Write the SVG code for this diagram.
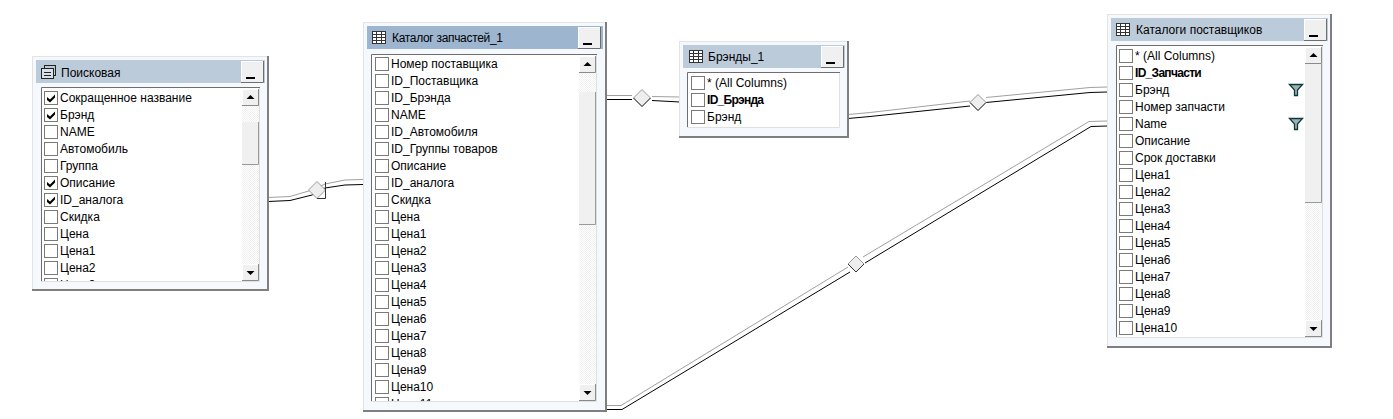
<svg xmlns="http://www.w3.org/2000/svg" xmlns:xlink="http://www.w3.org/1999/xlink" width="1393" height="419" viewBox="0 0 1393 419">
<style>
text{font-family:"Liberation Sans",Arial,sans-serif;font-size:12px;fill:#000}
.b{font-weight:bold;letter-spacing:-0.7px}
.panel{fill:#f5f8fd}
.edgeL{fill:none;stroke:#e3e3e3;stroke-width:1}
.edgeD{fill:none;stroke:#7f7f7f;stroke-width:2}
.tb{fill:#bccbda}
.tba{fill:#9db5cf}
.lb{fill:#fff}
.lbD{fill:none;stroke:#6e6e6e;stroke-width:1}
.lbL{fill:none;stroke:#e0e0e0;stroke-width:1}
.g{fill:none;stroke:#a0a0a0;stroke-width:1}
.w{fill:none;stroke:#fff;stroke-width:3}
.k{fill:none;stroke:#000;stroke-width:1}
.d{fill:#eeeeee;stroke:#9a9a9a;stroke-width:1}
.ds{fill:none;stroke:#333;stroke-width:1}
.th{fill:#f0f0f0}
.thE{fill:none;stroke:#9a9a9a}
</style>
<defs>
<pattern id="hatch" width="2" height="2" patternUnits="userSpaceOnUse"><rect width="2" height="2" fill="#fff"/><rect width="1" height="1" fill="#f0f0f0"/><rect x="1" y="1" width="1" height="1" fill="#f0f0f0"/></pattern>
<symbol id="cb" width="14" height="14" overflow="visible"><rect x="0.5" y="0.5" width="13" height="13" fill="#fff" stroke="#7a7a7a"/></symbol>
<symbol id="ck" width="14" height="14" overflow="visible"><rect x="0.5" y="0.5" width="13" height="13" fill="#fff" stroke="#7a7a7a"/><path d="M3 6 L6 8.500 L11 3.500 L11 6.500 L6 11.500 L3 9 Z" fill="#000"/></symbol>
<symbol id="min" width="23" height="22" overflow="visible"><rect width="23" height="22" fill="#f0f0f0"/><path d="M0.500 21 V0.500 H22" fill="none" stroke="#fff"/><path d="M0 21.500 H22.500 V0" fill="none" stroke="#6e6e6e"/><rect x="5" y="16" width="9" height="2" fill="#000"/></symbol>
<symbol id="up" width="17" height="17" overflow="visible"><rect width="17" height="17" fill="#f0f0f0"/><path d="M0.500 16 V0.500 H16" fill="none" stroke="#fff"/><path d="M0 16.500 H16.500 V0" fill="none" stroke="#8a8a8a"/><path d="M4.500 10 H12.500 L8.500 6 Z" fill="#000"/></symbol>
<symbol id="dn" width="17" height="17" overflow="visible"><rect width="17" height="17" fill="#f0f0f0"/><path d="M0.500 16 V0.500 H16" fill="none" stroke="#fff"/><path d="M0 16.500 H16.500 V0" fill="none" stroke="#8a8a8a"/><path d="M4.500 7 H12.500 L8.500 11 Z" fill="#000"/></symbol>
<symbol id="tbl" width="14" height="13" overflow="visible"><rect x="0.500" y="0.500" width="13" height="12" fill="#fff" stroke="#333"/><path d="M0.500 3.500 H13.500 M0.500 6.500 H13.500 M0.500 9.500 H13.500 M4.500 0.500 V12.500 M9.500 0.500 V12.500" fill="none" stroke="#333"/></symbol>
<symbol id="qry" width="15" height="14" overflow="visible"><rect x="3.500" y="0.500" width="11" height="10" fill="#bccbda" stroke="#222"/><rect x="0.500" y="3.500" width="12" height="10" fill="#d8e0e8" stroke="#222"/><path d="M3 7.500 H10 M3 10.500 H10" stroke="#222" fill="none"/></symbol>
<symbol id="flt" width="14" height="12" overflow="visible"><path d="M0.500 0.500 H13.500 L8.500 6 V11.500 H5.500 V6 Z" fill="#a3aeae" stroke="#063c3c" stroke-width="1.300"/></symbol>
<clipPath id="c1"><rect x="42" y="88" width="198" height="193"/></clipPath>
<clipPath id="c2"><rect x="372" y="55" width="205" height="346"/></clipPath>
</defs>
<rect width="1393" height="419" fill="#fff"/>

<g id="connectors">
<path class="w" d="M268 199 L290 198 L317 190 L345 183 L363 182"/>
<path class="g" d="M268 197.500 L290 196.500 L312 190 L325 184 L345 180 L363 179.500"/>
<path class="k" d="M268 201.500 L290 200.500 L312 195 L325 188 L345 185 L363 184.500"/>
<path class="w" d="M606 97 L680 98"/>
<path class="g" d="M606 95.500 L632 95.500 M652 96.500 L680 97"/>
<path class="k" d="M606 99.500 L632 99.500 M652 100.500 L680 102"/>
<path class="w" d="M848 116 L870 114 L978 102 L1090 90 L1107 90"/>
<path class="g" d="M848 114.500 L870 112.500 L970 101 M986 97.500 L1090 87.500 L1107 87"/>
<path class="k" d="M848 118.500 L870 116.500 L970 106 M986 102.500 L1090 92.500 L1107 92"/>
<path class="w" d="M606 407 L622 407 L856 264 L1090 123 L1107 123"/>
<path class="g" d="M606 405.500 L621 405.500 L848 267 M863 257 L1089 121.500 L1107 121"/>
<path class="k" d="M606 409.500 L622 409.500 L850 272 M865 263 L1091 126.500 L1107 126"/>
<path class="d" d="M317 181.500 L325.500 190 L317 198.500 L308.500 190 Z"/>
<path class="ds" d="M325.500 182 V198.500 H317"/>
<path class="d" d="M642 89.500 L650.500 98 L642 106.500 L633.500 98 Z"/>
<path class="ds" d="M650.500 98 L642 106.500 L633.500 98"/>
<path class="d" d="M978 94.500 L986 102.500 L978 110.500 L970 102.500 Z"/>
<path class="ds" d="M986 102.500 L978 110.500 L970 102.500"/>
<path class="d" d="M856 256 L864 264 L856 272 L848 264 Z"/>
<path class="ds" d="M864 264 L856 272 L848 264"/>
</g>

<g id="node-poiskovaya">
<rect class="panel" x="32" y="56" width="236" height="234"/>
<path class="edgeL" d="M32.500 290 V56.500 H268"/>
<path class="edgeD" d="M32 290 H268 V56"/>
<rect class="tb" x="36" y="60" width="229" height="23"/>
<use href="#qry" x="41" y="65"/>
<text x="61" y="77">Поисковая</text>
<use href="#min" x="241" y="61"/>
<rect class="lb" x="41" y="88" width="219" height="194"/>
<path class="lbD" d="M41.500 282 V87.500 H260"/>
<path class="lbL" d="M41 281.500 H259.500 V88"/>
<rect x="242" y="89" width="17" height="192" fill="url(#hatch)"/>
<rect class="th" x="242" y="122" width="17" height="43"/>
<path class="thE" d="M242 164.500 H258.500 V122"/>
<use href="#up" x="242" y="89"/>
<use href="#dn" x="242" y="264"/>
<g clip-path="url(#c1)">
<use href="#ck" x="44" y="91"/><text x="60" y="102">Сокращенное название</text>
<use href="#ck" x="44" y="108"/><text x="60" y="119">Брэнд</text>
<use href="#cb" x="44" y="125"/><text x="60" y="136">NAME</text>
<use href="#cb" x="44" y="142"/><text x="60" y="153">Автомобиль</text>
<use href="#cb" x="44" y="159"/><text x="60" y="170">Группа</text>
<use href="#ck" x="44" y="176"/><text x="60" y="187">Описание</text>
<use href="#ck" x="44" y="193"/><text x="60" y="204">ID_аналога</text>
<use href="#cb" x="44" y="210"/><text x="60" y="221">Скидка</text>
<use href="#cb" x="44" y="227"/><text x="60" y="238">Цена</text>
<use href="#cb" x="44" y="244"/><text x="60" y="255">Цена1</text>
<use href="#cb" x="44" y="261"/><text x="60" y="272">Цена2</text>
<use href="#cb" x="44" y="278"/><text x="60" y="289">Цена3</text>
</g>
</g>

<g id="node-katalog-zapchastey">
<rect class="panel" x="363" y="22" width="243" height="389"/>
<path class="edgeL" d="M363.500 411 V22.500 H606"/>
<path class="edgeD" d="M363 411 H606 V22"/>
<rect class="tba" x="367" y="26" width="236" height="23"/>
<use href="#tbl" x="372" y="31"/>
<text x="392" y="42" textLength="111">Каталог запчастей_1</text>
<use href="#min" x="578" y="27"/>
<rect class="lb" x="371" y="55" width="226" height="347"/>
<path class="lbD" d="M371.500 402 V54.500 H597"/>
<path class="lbL" d="M371 401.500 H596.500 V55"/>
<rect x="579" y="56" width="17" height="345" fill="url(#hatch)"/>
<rect class="th" x="579" y="92" width="17" height="133"/>
<path class="thE" d="M579 224.500 H595.500 V92"/>
<use href="#up" x="579" y="56"/>
<use href="#dn" x="579" y="384"/>
<g clip-path="url(#c2)">
<use href="#cb" x="375" y="57"/><text x="391" y="68">Номер поставщика</text>
<use href="#cb" x="375" y="74"/><text x="391" y="85">ID_Поставщика</text>
<use href="#cb" x="375" y="91"/><text x="391" y="102">ID_Брэнда</text>
<use href="#cb" x="375" y="108"/><text x="391" y="119">NAME</text>
<use href="#cb" x="375" y="125"/><text x="391" y="136">ID_Автомобиля</text>
<use href="#cb" x="375" y="142"/><text x="391" y="153">ID_Группы товаров</text>
<use href="#cb" x="375" y="159"/><text x="391" y="170">Описание</text>
<use href="#cb" x="375" y="176"/><text x="391" y="187">ID_аналога</text>
<use href="#cb" x="375" y="193"/><text x="391" y="204">Скидка</text>
<use href="#cb" x="375" y="210"/><text x="391" y="221">Цена</text>
<use href="#cb" x="375" y="227"/><text x="391" y="238">Цена1</text>
<use href="#cb" x="375" y="244"/><text x="391" y="255">Цена2</text>
<use href="#cb" x="375" y="261"/><text x="391" y="272">Цена3</text>
<use href="#cb" x="375" y="278"/><text x="391" y="289">Цена4</text>
<use href="#cb" x="375" y="295"/><text x="391" y="306">Цена5</text>
<use href="#cb" x="375" y="312"/><text x="391" y="323">Цена6</text>
<use href="#cb" x="375" y="329"/><text x="391" y="340">Цена7</text>
<use href="#cb" x="375" y="346"/><text x="391" y="357">Цена8</text>
<use href="#cb" x="375" y="363"/><text x="391" y="374">Цена9</text>
<use href="#cb" x="375" y="380"/><text x="391" y="391">Цена10</text>
<use href="#cb" x="375" y="397"/><text x="391" y="408">Цена11</text>
</g>
</g>

<g id="node-brendy">
<rect class="panel" x="679" y="41" width="169" height="96"/>
<path class="edgeL" d="M679.500 137 V41.500 H848"/>
<path class="edgeD" d="M679 137 H848 V41"/>
<rect class="tb" x="683" y="45" width="162" height="23"/>
<use href="#tbl" x="689" y="50"/>
<text x="708" y="61">Брэнды_1</text>
<use href="#min" x="821" y="46"/>
<rect class="lb" x="687" y="73" width="153" height="55"/>
<path class="lbD" d="M687.500 128 V72.500 H840"/>
<path class="lbL" d="M687 127.500 H839.500 V73"/>
<use href="#cb" x="691" y="76"/><text x="707" y="87">* (All Columns)</text>
<use href="#cb" x="691" y="93"/><text class="b" x="707" y="104">ID_Брэнда</text>
<use href="#cb" x="691" y="110"/><text x="707" y="121">Брэнд</text>
</g>

<g id="node-katalogi-postavshchikov">
<rect class="panel" x="1107" y="14" width="224" height="333"/>
<path class="edgeL" d="M1107.500 347 V14.500 H1331"/>
<path class="edgeD" d="M1107 347 H1331 V14"/>
<rect class="tb" x="1111" y="18" width="217" height="23"/>
<use href="#tbl" x="1116" y="23"/>
<text x="1136" y="34">Каталоги поставщиков</text>
<use href="#min" x="1304" y="19"/>
<rect class="lb" x="1116" y="46" width="207" height="292"/>
<path class="lbD" d="M1116.500 338 V45.500 H1323"/>
<path class="lbL" d="M1116 337.500 H1322.500 V46"/>
<rect x="1305" y="47" width="17" height="290" fill="url(#hatch)"/>
<rect class="th" x="1305" y="64" width="17" height="139"/>
<path class="thE" d="M1305 202.500 H1321.500 V64"/>
<use href="#up" x="1305" y="47"/>
<use href="#dn" x="1305" y="320"/>
<use href="#cb" x="1119" y="49"/><text x="1135" y="60">* (All Columns)</text>
<use href="#cb" x="1119" y="66"/><text class="b" x="1135" y="77">ID_Запчасти</text>
<use href="#cb" x="1119" y="83"/><text x="1135" y="94">Брэнд</text>
<use href="#flt" x="1289" y="84"/>
<use href="#cb" x="1119" y="100"/><text x="1135" y="111">Номер запчасти</text>
<use href="#cb" x="1119" y="117"/><text x="1135" y="128">Name</text>
<use href="#flt" x="1289" y="118"/>
<use href="#cb" x="1119" y="134"/><text x="1135" y="145">Описание</text>
<use href="#cb" x="1119" y="151"/><text x="1135" y="162">Срок доставки</text>
<use href="#cb" x="1119" y="168"/><text x="1135" y="179">Цена1</text>
<use href="#cb" x="1119" y="185"/><text x="1135" y="196">Цена2</text>
<use href="#cb" x="1119" y="202"/><text x="1135" y="213">Цена3</text>
<use href="#cb" x="1119" y="219"/><text x="1135" y="230">Цена4</text>
<use href="#cb" x="1119" y="236"/><text x="1135" y="247">Цена5</text>
<use href="#cb" x="1119" y="253"/><text x="1135" y="264">Цена6</text>
<use href="#cb" x="1119" y="270"/><text x="1135" y="281">Цена7</text>
<use href="#cb" x="1119" y="287"/><text x="1135" y="298">Цена8</text>
<use href="#cb" x="1119" y="304"/><text x="1135" y="315">Цена9</text>
<use href="#cb" x="1119" y="321"/><text x="1135" y="332">Цена10</text>
</g>
</svg>
